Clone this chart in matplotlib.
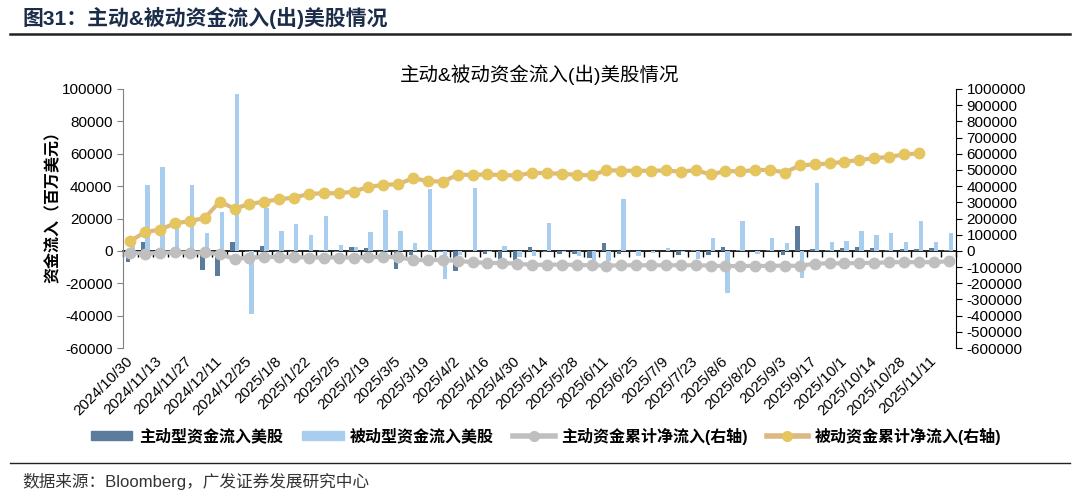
import matplotlib
matplotlib.use("Agg")
import matplotlib.pyplot as plt
import numpy as np
from matplotlib.patches import Patch
from matplotlib.lines import Line2D
from matplotlib.ticker import FuncFormatter

plt.rcParams['font.family'] = ['Liberation Sans', 'Noto Sans CJK SC']
plt.rcParams['axes.unicode_minus'] = False

# weekly observation dates
dates = ['2024/10/30', '2024/11/6', '2024/11/13', '2024/11/20', '2024/11/27', '2024/12/4',
         '2024/12/11', '2024/12/18', '2024/12/25', '2025/1/1', '2025/1/8', '2025/1/15',
         '2025/1/22', '2025/1/29', '2025/2/5', '2025/2/12', '2025/2/19', '2025/2/26',
         '2025/3/5', '2025/3/12', '2025/3/19', '2025/3/26', '2025/4/2', '2025/4/9',
         '2025/4/16', '2025/4/23', '2025/4/30', '2025/5/7', '2025/5/14', '2025/5/21',
         '2025/5/28', '2025/6/4', '2025/6/11', '2025/6/18', '2025/6/25', '2025/7/2',
         '2025/7/9', '2025/7/16', '2025/7/23', '2025/7/30', '2025/8/6', '2025/8/13',
         '2025/8/20', '2025/8/27', '2025/9/3', '2025/9/10', '2025/9/17', '2025/9/24',
         '2025/10/1', '2025/10/7', '2025/10/14', '2025/10/21', '2025/10/28', '2025/11/4',
         '2025/11/11', '2025/11/18']

# weekly flows, USD mn (left axis)
active_flow = [-7000, 5600, 1000, 800, -1500, -11600, -15700, 5600, -800, 2900, -500, -800, -300, 500,
               -600, 2500, 1900, -500, -11400, -2700, -1000, -500, -12600, -300, -1700, -4800, -5800, 2300,
               -400, -1700, -2100, -4100, 4600, -1700, -300, 200, -200, -2700, 800, -2300, 2500, 400,
               -300, 300, -2700, 15500, 1000, 300, 1700, 2500, 1700, 800, 1000, 1000, 1700, 300]
passive_flow = [5000, 40400, 52000, 15000, 40400, 11000, 24200, 96700, -38900, 26700, 12400, 16400, 9500, 21700,
                3500, 2500, 11800, 25300, 12400, 4800, 38100, -17200, -2700, 38900, -800, 3100, -3700, -3100,
                17200, -1000, -3300, -5600, -6200, 32100, -3300, -1200, 1700, -600, -5200, 8100, -25900, 18400,
                -1700, 7900, 4600, -16800, 41800, 5400, 6000, 12400, 9500, 11200, 5200, 18200, 5200, 11200]

# cumulative net flows (right axis)
active_cum = [-12000, -16500, -12000, -10000, -12000, -10000, -20000, -50000, -41000, -39000, -37000, -39000,
              -41000, -41000, -41000, -41000, -39000, -37000, -39000, -56000, -58000, -56000, -62000, -70000,
              -74500, -74500, -79000, -87000, -85000, -85000, -87000, -89000, -91000, -89000, -89000, -89000,
              -89000, -89000, -89000, -91000, -95000, -93000, -93000, -93000, -91000, -93000, -79000, -77000,
              -77000, -74500, -74500, -70000, -70000, -70000, -70000, -64000]
passive_cum = [62000, 116000, 132000, 170000, 184000, 203000, 304000, 261000, 290000, 304000, 319000, 329000,
               352000, 356000, 356000, 366000, 395000, 408000, 412000, 449000, 431000, 428000, 470000, 470000,
               472000, 468000, 466000, 482000, 480000, 476000, 470000, 466000, 499000, 495000, 495000, 495000,
               497000, 489000, 499000, 472000, 493000, 491000, 499000, 501000, 484000, 528000, 534000, 540000,
               551000, 561000, 573000, 580000, 596000, 602000]

c_active = '#5b7c9c'
c_passive = '#a9cdee'
c_gray = '#bfbfbf'
c_gold_line = '#dcb882'
c_gold_mk = '#e5c55e'

fig = plt.figure(figsize=(10.8, 4.97), dpi=100)
ax = fig.add_axes([123 / 1080, 1 - 348 / 497, (956 - 123) / 1080, (348 - 89) / 497])

x = np.arange(len(dates))
w = 0.29
ax.bar(x - w / 2, active_flow, width=w, color=c_active, zorder=2)
ax.bar(x + w / 2, passive_flow, width=w, color=c_passive, zorder=2)

ax.set_xlim(-0.5, len(dates) - 0.5)
ax.set_ylim(-60000, 100000)
ax.set_yticks(np.arange(-60000, 100001, 20000))
ax.tick_params(axis='y', labelsize=11, length=4, color='#808080')
ax.spines['left'].set_color('#808080')
for s in ['top', 'right', 'bottom']:
    ax.spines[s].set_visible(False)

ax.set_xticks(x[::2])
ax.set_xticklabels(dates[::2], rotation=45, ha='right', va='center', rotation_mode='anchor', fontsize=11)
ax.tick_params(axis='x', length=0, pad=8)

# category axis crossing at zero
zero_frac = 60000 / 160000
sec = ax.secondary_xaxis(zero_frac)
sec.set_xticks(np.arange(-0.5, len(dates), 1.0))
sec.tick_params(axis='x', length=4, width=1, direction='out', labelbottom=False, color='black')
sec.spines['bottom'].set_color('black')
sec.spines['bottom'].set_linewidth(1.2)

ax.set_ylabel('资金流入（百万美元）', fontsize=11.5, fontweight='bold')
ax.yaxis.set_label_coords(-0.075, 0.56)

ax2 = ax.twinx()
ax2.plot(x, active_cum, color=c_gray, lw=3, marker='o', ms=7.5, mfc=c_gray, mec=c_gray, zorder=3)
ax2.plot(x[:len(passive_cum)], passive_cum, color=c_gold_line, lw=3, marker='o', ms=7.5,
         mfc=c_gold_mk, mec=c_gold_mk, zorder=4)
ax2.set_ylim(-600000, 1000000)
ax2.set_yticks(np.arange(-600000, 1000001, 100000))
ax2.yaxis.set_major_formatter(FuncFormatter(lambda v, p: f'{int(round(v))}'))
ax2.tick_params(axis='y', labelsize=11, length=4)
for s in ['top', 'left', 'bottom']:
    ax2.spines[s].set_visible(False)

fig.text(0.5, 1 - 75 / 497, '主动&被动资金流入(出)美股情况', ha='center', va='center', fontsize=14)

# legend
handles = [Patch(color=c_active), Patch(color=c_passive),
           Line2D([], [], color=c_gray, lw=4, marker='o', ms=7, mfc=c_gray, mec=c_gray),
           Line2D([], [], color=c_gold_line, lw=4, marker='o', ms=7, mfc=c_gold_mk, mec=c_gold_mk)]
labels = ['主动型资金流入美股', '被动型资金流入美股', '主动资金累计净流入(右轴)', '被动资金累计净流入(右轴)']
fig.legend(handles, labels, loc='center', bbox_to_anchor=(546 / 1080, 1 - 436 / 497), ncol=4, frameon=False,
           prop={'weight': 'bold', 'size': 11.5}, handlelength=2.6, handleheight=0.5, numpoints=1,
           columnspacing=1.2, handletextpad=0.4)

# report header and footer
fig.text(22 / 1080, 1 - 18 / 497, '图31：主动&被动资金流入(出)美股情况', ha='left', va='center',
         fontsize=15, fontweight='bold', color='#1c2d4a')
fig.add_artist(Line2D([10 / 1080, 1070 / 1080], [1 - 34 / 497] * 2, color='#222222', lw=1.8))
fig.add_artist(Line2D([10 / 1080, 1070 / 1080], [1 - 463 / 497] * 2, color='#222222', lw=1))
fig.text(22 / 1080, 1 - 481 / 497, '数据来源：Bloomberg，广发证券发展研究中心', ha='left', va='center',
         fontsize=12, color='#333333')

fig.savefig('out.png', dpi=100)
